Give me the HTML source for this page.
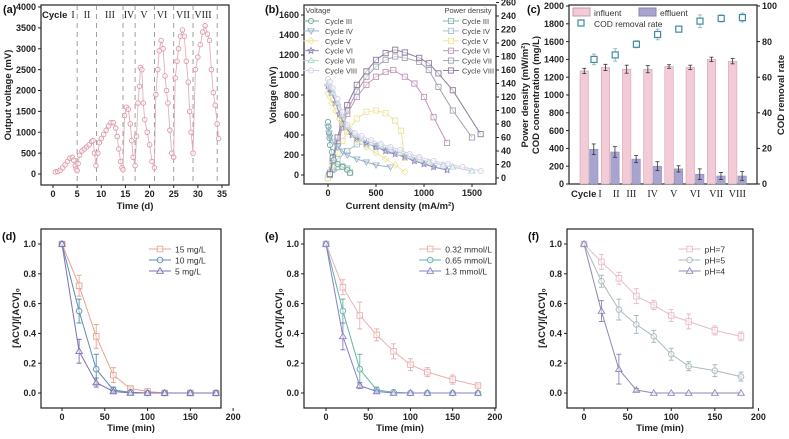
<!DOCTYPE html>
<html><head><meta charset="utf-8"><style>
body{margin:0;background:#fff}
svg{display:block;font-family:"Liberation Sans",sans-serif}
.t{font-size:9px;font-weight:bold;fill:#222}
.ti{font-size:9.5px;font-weight:bold;fill:#222}
.lg{font-size:8.5px;fill:#333}
.lgs{font-size:7.5px;fill:#444}
.pl{font-size:11px;font-weight:bold;fill:#111}
.rn{font-family:"Liberation Serif",serif;font-size:10px;fill:#222}
</style></head><body>
<svg id="fig" width="789" height="439" viewBox="0 0 789 439"></svg>
<script>
// ---------- Panel (a) data ----------
const aTime=[0.5,1,1.5,2,2.5,3,3.5,4,4.3,4.6,4.8,5,5.2,5.5,6,6.5,7,7.5,8,8.3,8.6,8.9,9.3,9.6,10,10.5,11,11.5,12,12.5,13,13.3,13.6,14,14.3,14.5,14.8,15.2,15.6,16,16.3,16.6,17,17.3,17.6,17.9,18.1,18.4,18.7,19,19.5,20,20.5,21,21.3,21.7,22,22.4,22.8,23.2,23.5,23.8,24.2,24.6,25,25.3,25.7,26,26.4,26.8,27.2,27.6,28,28.3,28.6,29,29.5,30,30.5,31,31.5,32,32.4,32.8,33.2,33.6,34,34.3];
const aVolt=[50,60,90,150,220,300,380,400,330,200,120,80,250,450,550,600,650,700,780,800,500,200,500,750,850,950,1050,1150,1230,1230,1100,900,600,300,150,100,1400,1600,1550,1200,800,400,200,900,1700,2100,2550,2500,1700,1300,1000,700,300,150,1900,2500,2950,3200,3000,2350,2000,1700,1050,500,400,2300,2700,3000,3300,3450,3300,2700,2200,1500,1000,500,2500,2800,3100,3400,3550,3350,3200,2500,1950,1650,1200,850];
const aCycleBounds=[5,9,14.5,17,21,25,29,34];
const aXTicks=[0,5,10,15,20,25,30,35];
const aYTicks=[0,500,1000,1500,2000,2500,3000,3500,4000];
// ---------- Panel (b) data ----------
const bCycles=["Cycle III","Cycle IV","Cycle V","Cycle VI","Cycle VII","Cycle VIII"];
const bVx=[[0,5,10,15,20,40,60,100,150,200,230],[0,10,20,50,100,150,200,300,400,500,650],[0,20,40,80,120,160,200,300,400,500,600,700,800],[0,20,40,80,120,180,250,300,400,500,600,700,800,900,1000,1100,1240],[0,20,50,100,150,200,280,350,450,550,650,750,850,950,1050,1200,1300,1500],[0,20,50,100,150,200,280,350,450,550,650,750,850,950,1100,1250,1400,1590]];
const bVy=[[530,480,420,370,300,230,150,110,80,50,20],[480,420,380,330,280,240,200,160,130,100,80],[820,780,720,640,560,500,440,350,280,220,160,100,30],[890,860,820,720,610,480,400,370,320,280,240,210,180,140,110,80,50],[910,880,820,720,600,480,400,360,320,290,260,220,190,160,130,100,80,40],[960,930,870,760,630,500,420,390,350,310,280,250,210,180,140,110,80,40]];
const bPx=[[0,10,20,40,60,100,150,200,230],[0,20,50,100,200,300,400,500,650],[0,50,100,150,200,300,400,500,600,700,760,800],[20,50,100,150,200,300,400,500,600,680,800,900,1000,1100,1240],[20,50,100,150,200,300,400,500,600,700,800,950,1050,1150,1300,1500],[20,50,100,150,200,300,400,500,600,700,800,950,1050,1150,1300,1590]];
const bPy=[[0,4,8,12,14,16,17,14,8],[0,8,17,28,40,50,50,47,40],[0,20,38,55,68,88,98,100,96,85,70,30],[5,25,50,75,95,120,138,150,157,160,150,140,120,90,52],[5,25,55,80,100,128,150,165,175,180,178,172,160,135,100,60],[6,30,60,88,108,138,158,175,185,190,186,178,170,155,130,65]];
const bXTicks=[0,500,1000,1500];
const bYTicks=[0,200,400,600,800,1000,1200,1400,1600];
const bY2Ticks=[0,20,40,60,80,100,120,140,160,180,200,220,240,260];
// ---------- Panel (c) data ----------
const cCats=["I","II","III","IV","V","VI","VII","VIII"];
const cInf=[1270,1310,1290,1290,1320,1310,1400,1380];
const cInfErr=[30,35,45,40,20,25,25,30];
const cEff=[390,360,280,200,170,110,90,90];
const cEffErr=[60,60,40,50,35,60,40,50];
const cRate=[70,72.5,78.5,84,87,91.5,93,93.5];
const cRateErr=[3,3.5,2,3,1.5,3.5,2,2.5];
const cYTicks=[0,200,400,600,800,1000,1200,1400,1600,1800,2000];
const cY2Ticks=[0,20,40,60,80,100];
// ---------- Panels (d)(e)(f) data ----------
const tMin=[0,20,40,60,80,100,120,150,180];
const d15=[1,0.72,0.38,0.12,0.03,0.01,0,0,0];
const d10=[1,0.55,0.16,0.02,0.005,0,0,0,0];
const d5=[1,0.28,0.07,0.01,0,0,0,0,0];
const dErr=[[0,0.07,0.08,0.05,0.01,0,0,0,0],[0,0.08,0.1,0.02,0,0,0,0,0],[0,0.08,0.03,0.01,0,0,0,0,0]];
const e032=[1,0.71,0.52,0.39,0.28,0.19,0.14,0.09,0.05];
const e065=[1,0.55,0.16,0.02,0.005,0,0,0,0];
const e13=[1,0.38,0.05,0.01,0,0,0,0,0];
const eErr=[[0,0.05,0.09,0.04,0.05,0.04,0.03,0.03,0.01],[0,0.08,0.1,0.02,0,0,0,0,0],[0,0.09,0.02,0.01,0,0,0,0,0]];
const f7=[1,0.88,0.77,0.65,0.59,0.52,0.48,0.42,0.38];
const f5=[1,0.75,0.56,0.46,0.38,0.26,0.18,0.15,0.11];
const f4=[1,0.55,0.16,0.02,0,0,0,0,0];
const fErr=[[0,0.05,0.04,0.05,0.03,0.04,0.05,0.03,0.03],[0,0.04,0.07,0.06,0.04,0.04,0.03,0.04,0.03],[0,0.07,0.1,0.01,0,0,0,0,0]];
const yTicksN=[0,0.2,0.4,0.6,0.8,1.0];
const tTicks=[0,50,100,150,200];

const NS="http://www.w3.org/2000/svg";
const svg=document.getElementById('fig');
function mk(tag,attrs,parent,text){const e=document.createElementNS(NS,tag);for(const k in attrs)e.setAttribute(k,attrs[k]);if(text!==undefined)e.textContent=text;(parent||svg).appendChild(e);return e;}
function lin(d0,d1,r0,r1){return v=>r0+(v-d0)*(r1-r0)/(d1-d0);}
function grp(name){const g=mk('g',{});return g;}
function marker(g,shape,x,y,c,name,s){s=s||3;let e;const sw=0.9;
 if(shape==='o')e=mk('circle',{cx:x,cy:y,r:s,fill:'#fff','fill-opacity':0.5,stroke:c,'stroke-width':sw},g);
 else if(shape==='s')e=mk('rect',{x:x-s,y:y-s,width:2*s,height:2*s,fill:'#fff','fill-opacity':0.5,stroke:c,'stroke-width':sw},g);
 else if(shape==='t')e=mk('path',{d:`M${x},${y-s-0.5}L${x+s+0.5},${y+s-0.5}L${x-s-0.5},${y+s-0.5}Z`,fill:'#fff','fill-opacity':0.5,stroke:c,'stroke-width':sw},g);
 else if(shape==='v')e=mk('path',{d:`M${x},${y+s+0.5}L${x+s+0.5},${y-s+0.5}L${x-s-0.5},${y-s+0.5}Z`,fill:'none',stroke:c,'stroke-width':sw},g);
 else if(shape==='*'){let d='';for(let i=0;i<10;i++){const r=i%2?1.5:s+0.6,a=-Math.PI/2+i*Math.PI/5;d+=(i?'L':'M')+(x+r*Math.cos(a)).toFixed(1)+','+(y+r*Math.sin(a)).toFixed(1);}e=mk('path',{d:d+'Z',fill:'none',stroke:c,'stroke-width':sw},g);}
 else if(shape==='d')e=mk('path',{d:`M${x},${y-s-0.5}L${x+s+0.5},${y}L${x},${y+s+0.5}L${x-s-0.5},${y}Z`,fill:'none',stroke:c,'stroke-width':sw},g);
 return e;}
function box(g,x0,y0,x1,y1){const r=mk('rect',{x:x0,y:y0,width:x1-x0,height:y1-y0,fill:'none',stroke:'#222','stroke-width':1.2},g);}
function xTicks(g,ticks,X,yb,fmt){ticks.forEach(t=>{const x=X(t);mk('line',{x1:x,y1:yb,x2:x,y2:yb+3,stroke:'#222'},g);const tx=mk('text',{x:x,y:yb+12,'text-anchor':'middle',class:'t'},g,fmt?fmt(t):t);});}
function yTicks(g,ticks,Y,xl,fmt,right){ticks.forEach(t=>{const y=Y(t);mk('line',{x1:xl,y1:y,x2:right?xl+3:xl-3,y2:y,stroke:'#222'},g);const tx=mk('text',{x:right?xl+5:xl-5,y:y+3.2,'text-anchor':right?'start':'end',class:'t'},g,fmt?fmt(t):t);});}
function label(g,x,y,txt,cls,rot,name,anchor){const t=mk('text',{x:x,y:y,'text-anchor':anchor||'middle',class:cls,transform:rot?`rotate(-90 ${x} ${y})`:''},g,txt);return t;}
function line(g,xs,ys,X,Y,c,name,w){const p=mk('polyline',{points:xs.map((v,i)=>X(v).toFixed(1)+','+Y(ys[i]).toFixed(1)).join(' '),fill:'none',stroke:c,'stroke-width':w||1},g);}

// ===== (a) =====
(function(){const g=grp('panel-a');const X=lin(0,35,53,222),Y=lin(0,4000,174,7);
 box(g,41,5,229,185);
 aCycleBounds.forEach(t=>{const l=mk('line',{x1:X(t),y1:5,x2:X(t),y2:185,stroke:'#888','stroke-dasharray':'5,4','stroke-width':0.8},g);});
 line(g,aTime,aVolt,X,Y,'#e0b0ba','voltage-line',0.9);
 aTime.forEach((t,i)=>marker(g,'o',X(t),Y(aVolt[i]),'#dc9aa8','voltage-point',2.3));
 xTicks(g,aXTicks,X,185);yTicks(g,aYTicks,Y,41);
 label(g,42,18,'Cycle','ti',false,'cycle-label','start');
 [['I',73],['II',87],['III',110],['IV',129],['V',144],['VI',162],['VII',183],['VIII',203]].forEach(([n,x])=>label(g,x,18,n,'rn',false,'cycle-numeral'));
 label(g,3,13,'(a)','pl',false,'panel-label-a','start');
 label(g,11,95,'Output voltage (mV)','ti',true,'y-axis-title');
 label(g,135,209,'Time (d)','ti',false,'x-axis-title');
})();
// ===== (b) =====
(function(){const g=grp('panel-b');const X=lin(0,1500,328,472),Y=lin(0,1600,175,15),Y2=lin(0,240,178,16);
 box(g,304,5,496,184);
 const vc=['#6fa89a','#9ab3c8','#ece6a0','#9088bd','#b3d4d2','#d6d0e6'];
 const vs=['o','v','d','*','t','o'];
 const pc=['#86b7ab','#a9c1cf','#ece59c','#c197b9','#a2a2b4','#8f7ba0'];
 bCycles.forEach((c,i)=>{line(g,bPx[i],bPy[i],X,Y2,pc[i],'power-line-'+i);bPx[i].forEach((x,j)=>marker(g,'s',X(x),Y2(bPy[i][j]),pc[i],'power-point',2.6));});
 bCycles.forEach((c,i)=>{line(g,bVx[i],bVy[i],X,Y,vc[i],'voltage-line-'+i);bVx[i].forEach((x,j)=>marker(g,vs[i],X(x),Y(bVy[i][j]),vc[i],'voltage-point',2.6));});
 xTicks(g,bXTicks,X,184);yTicks(g,bYTicks,Y,304);yTicks(g,bY2Ticks,Y2,496,null,true);
 label(g,318,13,'Voltage','lgs',false,'legend-title-voltage');
 label(g,468,13,'Power density','lgs',false,'legend-title-power');
 bCycles.forEach((c,i)=>{const y=21+i*9.9;
  mk('line',{x1:303,y1:y,x2:319,y2:y,stroke:vc[i]},g);marker(g,vs[i],311,y,vc[i],'legend-marker',2.6);
  label(g,325,y+3,c,'lgs',false,'legend-voltage-'+i,'start');
  mk('line',{x1:443,y1:y,x2:459,y2:y,stroke:pc[i]},g);marker(g,'s',451,y,pc[i],'legend-marker',2.6);
  label(g,462,y+3,c,'lgs',false,'legend-power-'+i,'start');});
 label(g,265,13,'(b)','pl',false,'panel-label-b','start');
 label(g,276,95,'Voltage (mV)','ti',true,'y-axis-title');
 label(g,528,95,'Power density (mW/m²)','ti',true,'y2-axis-title');
 label(g,400,209,'Current density (mA/m²)','ti',false,'x-axis-title');
})();
// ===== (c) =====
(function(){const g=grp('panel-c');const Y=lin(0,2000,184,6),Y2=lin(0,100,184,6);
 const X=i=>589+i*21.2;
 box(g,569,5,757,184);
 cCats.forEach((c,i)=>{const x=X(i);
  const b1=mk('rect',{x:x-9,y:Y(cInf[i]),width:8.5,height:184-Y(cInf[i]),fill:'#f3cbd7',stroke:'#c89aa8','stroke-width':0.5},g);
  const b2=mk('rect',{x:x+0.5,y:Y(cEff[i]),width:8.5,height:184-Y(cEff[i]),fill:'#a9a3cf',stroke:'#8a84b5','stroke-width':0.5},g);
  [[x-4.75,cInf[i],cInfErr[i],Y],[x+4.75,cEff[i],cEffErr[i],Y],[x+5,cRate[i],cRateErr[i],Y2]].forEach(([ex,v,e,YY],k)=>{const c=k==2?'#8aa':'#333';mk('line',{x1:ex,y1:YY(v-e),x2:ex,y2:YY(v+e),stroke:c,'stroke-width':0.8},g);mk('line',{x1:ex-2,y1:YY(v-e),x2:ex+2,y2:YY(v-e),stroke:c,'stroke-width':0.8},g);mk('line',{x1:ex-2,y1:YY(v+e),x2:ex+2,y2:YY(v+e),stroke:c,'stroke-width':0.8},g);});
  const m=mk('rect',{x:x+2,y:Y2(cRate[i])-3,width:6,height:6,fill:'#fff',stroke:'#3d8ca0','stroke-width':1.2},g);
  label(g,x+(i==0?11:(i==1?6:0)),197,c,'rn',false,'category-label');});
 yTicks(g,cYTicks,Y,569);yTicks(g,cY2Ticks,Y2,757,null,true);
 label(g,571,197,'Cycle','ti',false,'cycle-label','start');
 mk('rect',{x:573,y:8,width:17,height:8,fill:'#f3cbd7',stroke:'#c89aa8'},g);
 label(g,594,16,'influent','lg',false,'legend-influent','start');
 mk('rect',{x:639,y:8,width:17,height:8,fill:'#a9a3cf',stroke:'#8a84b5'},g);
 label(g,660,16,'effluent','lg',false,'legend-effluent','start');
 mk('rect',{x:578,y:20,width:6,height:6,fill:'#fff',stroke:'#3d8ca0','stroke-width':1.2},g);
 label(g,594,27,'COD removal rate','lg',false,'legend-removal-rate','start');
 label(g,527,13,'(c)','pl',false,'panel-label-c','start');
 label(g,539,95,'COD concentration (mg/L)','ti',true,'y-axis-title');
 label(g,784,95,'COD removal rate','ti',true,'y2-axis-title');
})();
// ===== (d)(e)(f) =====
function ratePanel(name,lbl,bx0,bx1,x0px,x180px,series,errs,names,colors){
 const g=grp(name);const X=lin(0,180,x0px,x180px),Y=lin(0,1,393,244);
 box(g,bx0,229,bx1,408);
 const shapes=['s','o','t'];
 series.forEach((s,i)=>{line(g,tMin,s,X,Y,colors[i],'series-line-'+i);
  s.forEach((v,j)=>{const e=errs[i][j];if(e>0){const x=X(tMin[j]);mk('line',{x1:x,y1:Y(v-e),x2:x,y2:Y(v+e),stroke:colors[i],'stroke-width':0.9},g);mk('line',{x1:x-2.5,y1:Y(v+e),x2:x+2.5,y2:Y(v+e),stroke:colors[i]},g);mk('line',{x1:x-2.5,y1:Y(v-e),x2:x+2.5,y2:Y(v-e),stroke:colors[i]},g);}
   marker(g,shapes[i],X(tMin[j]),Y(v),colors[i],'series-point',2.8);});});
 xTicks(g,tTicks,X,408);yTicks(g,yTicksN,Y,bx0,t=>t.toFixed(1));
 names.forEach((n,i)=>{const y=249+i*11,lx=bx0+(bx1-bx0)*0.6;mk('line',{x1:lx,y1:y,x2:lx+22,y2:y,stroke:colors[i]},g);marker(g,shapes[i],lx+11,y,colors[i],'legend-marker',2.8);label(g,lx+26,y+3.5,n,'lg',false,'legend-entry-'+i,'start');});
 label(g,bx0-39,240,lbl,'pl',false,'panel-label','start');
 label(g,bx0-22,318,'[ACV]/[ACV]₀','ti',true,'y-axis-title');
 label(g,(bx0+bx1)/2,431,'Time (min)','ti',false,'x-axis-title');
}
ratePanel('panel-d','(d)',41,221,62,216,[d15,d10,d5],dErr,['15 mg/L','10 mg/L','5 mg/L'],['#e9a393','#5c8db3','#7b72b3']);
ratePanel('panel-e','(e)',304,496,326,478,[e032,e065,e13],eErr,['0.32 mmol/L','0.65 mmol/L','1.3 mmol/L'],['#eab0b0','#5fb3a8','#8580c2']);
ratePanel('panel-f','(f)',567,753,584,741,[f7,f5,f4],fErr,['pH=7','pH=5','pH=4'],['#e9bcc6','#a9b9bf','#8f87b9']);
</script>
</body></html>
